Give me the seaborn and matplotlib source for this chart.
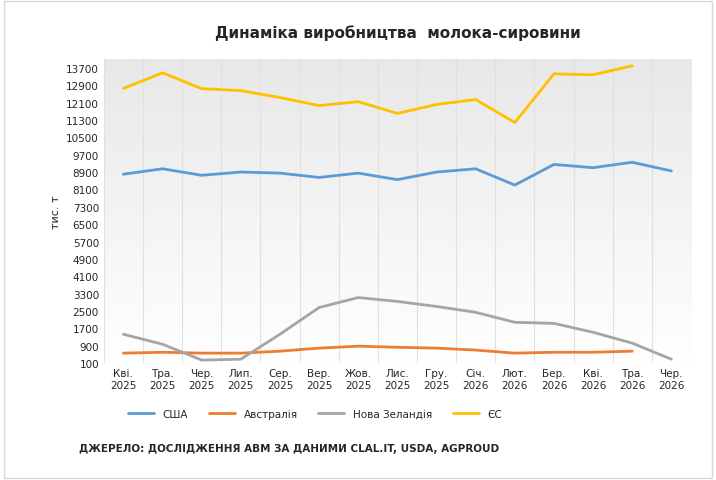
import matplotlib
matplotlib.use('Agg')
import matplotlib.pyplot as plt
import seaborn as sns
import numpy as np
import pandas as pd

months = ['Кві.\n2025', 'Тра.\n2025', 'Чер.\n2025', 'Лип.\n2025', 'Сер.\n2025', 'Вер.\n2025', 'Жов.\n2025',
          'Лис.\n2025', 'Гру.\n2025', 'Січ.\n2026', 'Лют.\n2026', 'Бер.\n2026', 'Кві.\n2026', 'Тра.\n2026', 'Чер.\n2026']
usa = [8800, 9050, 8750, 8900, 8850, 8650, 8850, 8550, 8900, 9050, 8300, 9250, 9100, 9350, 8950]
australia = [560, 600, 560, 560, 650, 790, 880, 830, 790, 700, 560, 600, 600, 650, np.nan]
nz = [1430, 970, 240, 280, 1430, 2660, 3120, 2940, 2710, 2440, 1980, 1930, 1520, 1020, 280]
eu = [12750, 13470, 12740, 12650, 12330, 11960, 12140, 11600, 12010, 12240, 11180, 13420, 13380, 13790, np.nan]
yticks = list(range(100, 13701, 800))

df = pd.DataFrame({'США': usa, 'Австралія': australia, 'Нова Зеландія': nz, 'ЄС': eu})
df['x'] = range(len(months))
long = df.melt(id_vars='x', var_name='series', value_name='val')

sns.set_style('white')
plt.rcParams['font.family'] = ['DejaVu Sans']
fig, ax = plt.subplots(figsize=(7.16, 4.81), dpi=100)
fig.subplots_adjust(left=0.145, right=0.965, top=0.875, bottom=0.243)

# gradient background: white at top, light grey at bottom
grad = np.linspace(1, 0, 256).reshape(-1, 1)
ax.imshow(grad, cmap=matplotlib.colors.LinearSegmentedColormap.from_list('g', ['#e8e8e8', '#ffffff']),
          extent=[-0.5, len(months) - 0.5, 100, 14100], aspect='auto', origin='lower', zorder=0)

colors = {'США': '#5b9bd5', 'Австралія': '#ed7d31', 'Нова Зеландія': '#a5a5a5', 'ЄС': '#ffc000'}
sns.lineplot(data=long, x='x', y='val', hue='series', palette=colors, linewidth=2, ax=ax, zorder=3)

for xv in np.arange(-0.5, len(months), 1):
    ax.axvline(xv, color='#e0e0e0', lw=0.8, zorder=1)
ax.set_xlim(-0.5, len(months) - 0.5)
ax.set_ylim(100, 14100)
ax.set_yticks(yticks)
ax.set_xticks(range(len(months)))
ax.set_xticklabels(months, fontsize=7.5)
ax.tick_params(axis='y', labelsize=7.5, length=0)
ax.tick_params(axis='x', length=0)
ax.set_xlabel('')
ax.set_ylabel('тис. т', fontsize=8)
for s in ax.spines.values():
    s.set_visible(False)
ax.set_title('Динаміка виробництва  молока-сировини', fontsize=11, fontweight='bold', pad=16)
ax.legend(loc='upper center', bbox_to_anchor=(0.36, -0.12), ncol=4, frameon=False, fontsize=7.5,
          handlelength=2.5)
fig.text(0.11, 0.06, 'ДЖЕРЕЛО: ДОСЛІДЖЕННЯ АВМ ЗА ДАНИМИ CLAL.IT, USDA, AGPROUD', fontsize=7.5, fontweight='bold')
fig.patches.append(plt.Rectangle((0.005, 0.005), 0.99, 0.99, transform=fig.transFigure,
                                 fill=False, edgecolor='#d9d9d9', lw=1))
fig.savefig('out.png', dpi=100)
